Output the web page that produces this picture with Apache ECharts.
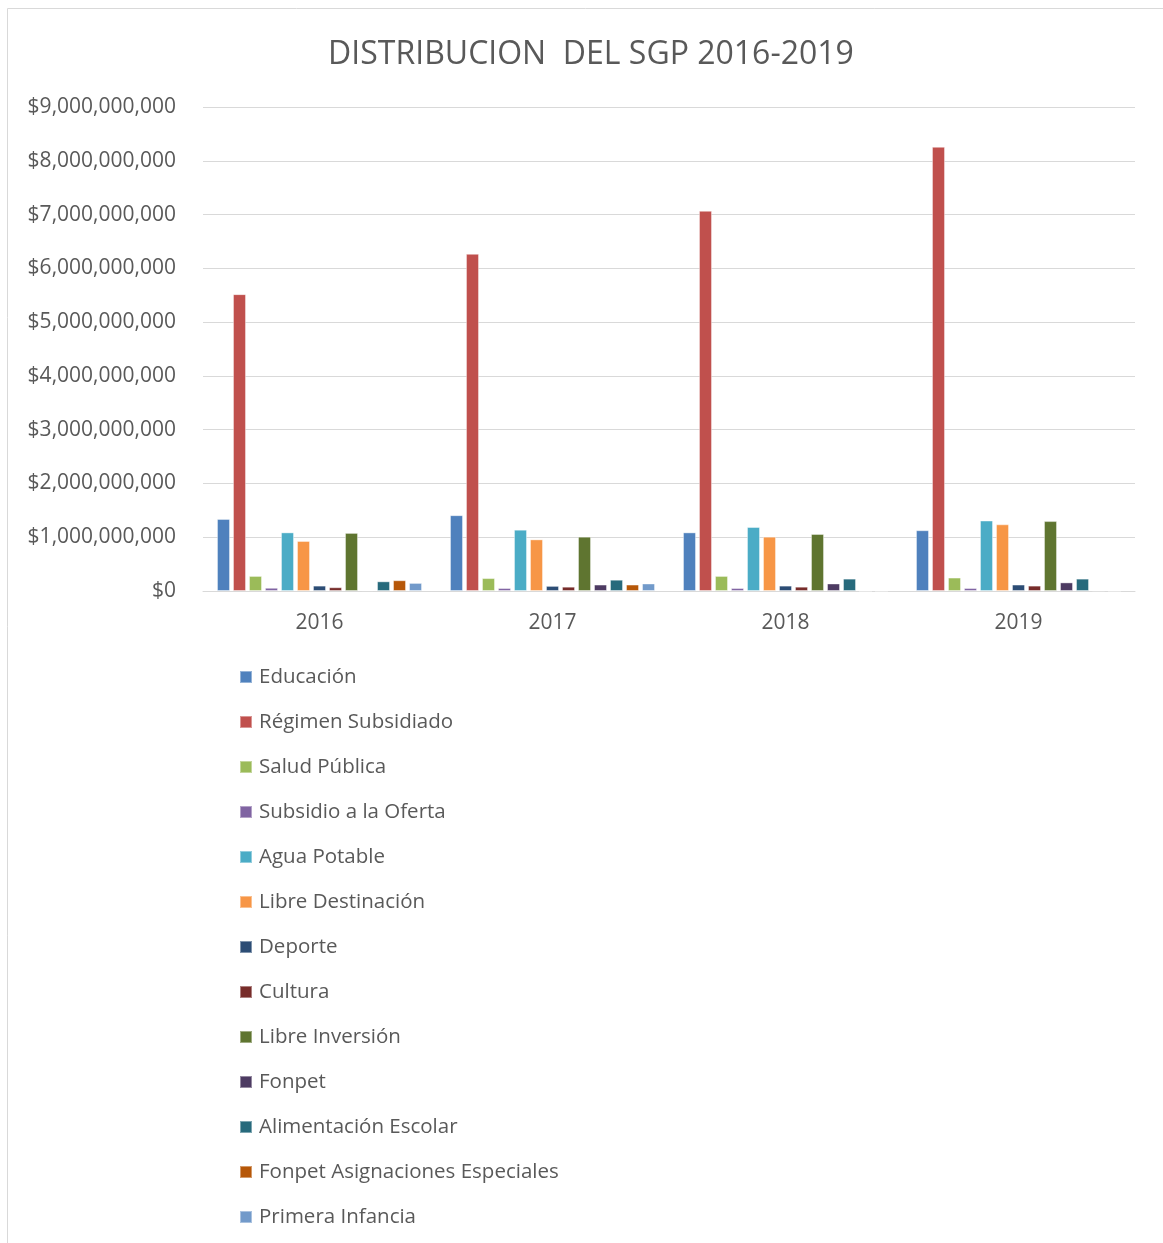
<!DOCTYPE html>
<html>
<head>
<meta charset="utf-8">
<script src="https://cdn.jsdelivr.net/npm/echarts@6/dist/echarts.min.js"></script>
<style>html,body{margin:0;padding:0;background:#fff;}#c{width:1163px;height:1243px;}</style>
</head>
<body>
<div id="c"></div>
<script>
const years = ['2016', '2017', '2018', '2019'];
const seriesNames = ['Educación', 'Régimen Subsidiado', 'Salud Pública', 'Subsidio a la Oferta', 'Agua Potable', 'Libre Destinación', 'Deporte', 'Cultura', 'Libre Inversión', 'Fonpet', 'Alimentación Escolar', 'Fonpet Asignaciones Especiales', 'Primera Infancia'];
const educacion = [1340000000, 1410000000, 1090000000, 1130000000];
const regimenSubsidiado = [5520000000, 6270000000, 7070000000, 8260000000];
const saludPublica = [280000000, 240000000, 280000000, 250000000];
const subsidioOferta = [60000000, 55000000, 55000000, 55000000];
const aguaPotable = [1090000000, 1140000000, 1190000000, 1310000000];
const libreDestinacion = [930000000, 960000000, 1010000000, 1240000000];
const deporte = [100000000, 95000000, 100000000, 120000000];
const cultura = [70000000, 80000000, 80000000, 100000000];
const libreInversion = [1080000000, 1010000000, 1060000000, 1300000000];
const fonpet = [15000000, 120000000, 140000000, 160000000];
const alimentacionEscolar = [180000000, 210000000, 230000000, 230000000];
const fonpetAsignaciones = [200000000, 120000000, 0, 10000000];
const primeraInfancia = [150000000, 140000000, 0, 0];
const yTicks = [0, 1000000000, 2000000000, 3000000000, 4000000000, 5000000000, 6000000000, 7000000000, 8000000000, 9000000000];

const values = [educacion, regimenSubsidiado, saludPublica, subsidioOferta, aguaPotable, libreDestinacion, deporte, cultura, libreInversion, fonpet, alimentacionEscolar, fonpetAsignaciones, primeraInfancia];
const colors = ['#4F81BD', '#C0504D', '#9BBB59', '#8064A2', '#4BACC6', '#F79646', '#2C4D75', '#772C2A', '#5F7530', '#4D3B62', '#276A7C', '#B65708', '#729ACA'];

const font = '"Open Sans", "Liberation Sans", sans-serif';
const chart = echarts.init(document.getElementById('c'), null, {renderer: 'canvas'});

function fmt(v) {
  return '$' + v.toString().replace(/\B(?=(\d{3})+(?!\d))/g, ',');
}

chart.setOption({
  animation: false,
  color: colors,
  graphic: [{
    type: 'rect',
    shape: {x: 7.5, y: 8.5, width: 1170, height: 1250},
    style: {fill: 'none', stroke: '#d9d9d9', lineWidth: 1},
    silent: true
  }],
  title: {
    text: 'DISTRIBUCION  DEL SGP 2016-2019',
    left: 586,
    textAlign: 'center',
    top: 34,
    textStyle: {fontFamily: font, fontSize: 32, fontWeight: 'normal', color: '#595959'}
  },
  grid: {left: 203, right: 28, top: 107, bottom: 652, containLabel: false},
  xAxis: {
    type: 'category',
    data: years,
    axisLine: {lineStyle: {color: '#d9d9d9'}},
    axisTick: {show: false},
    axisLabel: {fontFamily: font, fontSize: 21, color: '#595959', margin: 22}
  },
  yAxis: {
    type: 'value',
    min: yTicks[0],
    max: yTicks[yTicks.length - 1],
    interval: yTicks[1] - yTicks[0],
    axisLine: {show: false},
    axisTick: {show: false},
    splitLine: {lineStyle: {color: '#d9d9d9'}},
    axisLabel: {fontFamily: font, fontSize: 21, color: '#595959', margin: 27, formatter: fmt}
  },
  legend: {
    orient: 'vertical',
    left: 239,
    top: 665,
    padding: 0,
    itemWidth: 12,
    itemHeight: 12,
    itemGap: 21,
    icon: 'rect',
    data: seriesNames,
    textStyle: {fontFamily: font, fontSize: 20.5, color: '#595959', lineHeight: 24, padding: [0, 0, 0, 2]}
  },
  series: seriesNames.map((name, i) => ({
    name: name,
    type: 'bar',
    data: values[i],
    barGap: '23%',
    barCategoryGap: '12%',
    itemStyle: {color: colors[i], borderColor: 'rgba(255,255,255,0.4)', borderWidth: 1}
  }))
});
</script>
</body>
</html>
